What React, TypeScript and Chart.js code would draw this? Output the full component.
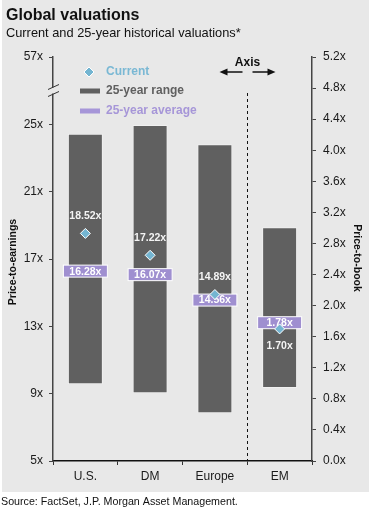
import React, { useEffect, useRef } from 'react';
import { Chart, registerables } from 'chart.js';

Chart.register(...registerables);

const FONT = "'Liberation Sans', Arial, sans-serif";

const categories = ['U.S.', 'DM', 'Europe', 'EM'];
const rangeLowPE = [9.56, 9.02, 7.83, null];
const rangeHighPE = [24.44, 24.96, 23.81, null];
const rangeLowPB = [null, null, null, 0.94];
const rangeHighPB = [null, null, null, 3.01];
const currentPE = [18.52, 17.22, 14.89, null];
const currentPB = [null, null, null, 1.7];
const averagePE = [16.28, 16.07, 14.56, null];
const averagePB = [null, null, null, 1.78];
const peTickValues = [5, 9, 13, 17, 21, 25, 29];
const peTickLabels = ['5x', '9x', '13x', '17x', '21x', '25x', '57x'];

const BG = '#e8e8e8';
const RANGE = '#606060';
const AVG = '#9f8fd0';
const CUR = '#74b5d1';

function drawAverages(chart: any) {
  const ctx = chart.ctx;
  const { x, yPE, yPB } = chart.scales;
  ctx.save();
  categories.forEach((_, i) => {
    let v: number | null = null;
    let y = 0;
    if (averagePE[i] != null) { v = averagePE[i] as number; y = yPE.getPixelForValue(v); }
    else if (averagePB[i] != null) { v = averagePB[i] as number; y = yPB.getPixelForValue(v); }
    if (v == null) return;
    const cx = x.getPixelForValue(i);
    const w = 44, h = 12;
    ctx.fillStyle = AVG;
    ctx.fillRect(cx - w / 2, y - h / 2, w, h);
    ctx.strokeStyle = '#ffffff';
    ctx.lineWidth = 1;
    ctx.strokeRect(cx - w / 2, y - h / 2, w, h);
    ctx.fillStyle = '#ffffff';
    ctx.font = `bold 10.5px ${FONT}`;
    ctx.textAlign = 'center';
    ctx.textBaseline = 'middle';
    ctx.fillText(v.toFixed(2) + 'x', cx, y + 0.5);
  });
  ctx.restore();
}

const decor = {
  id: 'decor',
  beforeDraw(chart: any) {
    const ctx = chart.ctx;
    ctx.save();
    ctx.fillStyle = '#ffffff';
    ctx.fillRect(0, 0, chart.width, chart.height);
    ctx.fillStyle = BG;
    ctx.fillRect(2, 0, 367, 492);
    ctx.restore();
  },
  beforeDatasetsDraw(chart: any) {
    chart.$avgDrawn = false;
  },
  beforeDatasetDraw(chart: any, args: any) {
    if (args.meta.type === 'line' && !chart.$avgDrawn) {
      drawAverages(chart);
      chart.$avgDrawn = true;
    }
  },
  afterDraw(chart: any) {
    const ctx = chart.ctx;
    const { x, yPE, yPB } = chart.scales;
    const area = chart.chartArea;
    ctx.save();

    // Title & subtitle
    ctx.fillStyle = '#111';
    ctx.textAlign = 'left';
    ctx.textBaseline = 'alphabetic';
    ctx.font = `bold 16px ${FONT}`;
    ctx.fillText('Global valuations', 6, 20);
    ctx.font = `12.8px ${FONT}`;
    ctx.fillText('Current and 25-year historical valuations*', 6, 37);

    // Source
    ctx.font = `10.7px ${FONT}`;
    ctx.fillStyle = '#111';
    ctx.textBaseline = 'middle';
    ctx.fillText('Source: FactSet, J.P. Morgan Asset Management.', 1, 502);

    // Axis titles
    ctx.font = `bold 10.5px ${FONT}`;
    ctx.textAlign = 'center';
    ctx.textBaseline = 'middle';
    ctx.save();
    ctx.translate(13, 262);
    ctx.rotate(-Math.PI / 2);
    ctx.fillText('Price-to-earnings', 0, 0);
    ctx.restore();
    ctx.save();
    ctx.translate(357, 258);
    ctx.rotate(Math.PI / 2);
    ctx.fillText('Price-to-book', 0, 0);
    ctx.restore();

    // Axis break on left axis
    const ax = area.left;
    ctx.fillStyle = BG;
    ctx.fillRect(ax - 2, 87.5, 4, 6);
    ctx.strokeStyle = '#333';
    ctx.lineWidth = 1;
    ctx.beginPath();
    ctx.moveTo(ax - 5, 89.5); ctx.lineTo(ax + 6, 84.5);
    ctx.moveTo(ax - 5, 96.5); ctx.lineTo(ax + 6, 91.5);
    ctx.stroke();

    // Dashed divider
    const dx = Math.round((x.getPixelForValue(2) + x.getPixelForValue(3)) / 2) + 0.5;
    ctx.strokeStyle = '#111';
    ctx.setLineDash([3, 3]);
    ctx.beginPath();
    ctx.moveTo(dx, 93);
    ctx.lineTo(dx, area.bottom);
    ctx.stroke();
    ctx.setLineDash([]);

    // "Axis" label with arrows
    ctx.fillStyle = '#111';
    ctx.font = `bold 12px ${FONT}`;
    ctx.textAlign = 'center';
    ctx.fillText('Axis', dx, 63);
    ctx.lineWidth = 1.5;
    ctx.beginPath();
    ctx.moveTo(dx - 5, 72); ctx.lineTo(dx - 22, 72);
    ctx.moveTo(dx + 5, 72); ctx.lineTo(dx + 22, 72);
    ctx.stroke();
    ctx.beginPath();
    ctx.moveTo(dx - 28, 72); ctx.lineTo(dx - 20, 68.5); ctx.lineTo(dx - 20, 75.5); ctx.closePath();
    ctx.moveTo(dx + 28, 72); ctx.lineTo(dx + 20, 68.5); ctx.lineTo(dx + 20, 75.5); ctx.closePath();
    ctx.fill();

    // Legend
    ctx.font = `bold 12px ${FONT}`;
    ctx.textAlign = 'left';
    ctx.textBaseline = 'middle';
    // diamond
    ctx.fillStyle = CUR;
    ctx.strokeStyle = '#fff';
    ctx.lineWidth = 1;
    ctx.beginPath();
    ctx.moveTo(89, 67); ctx.lineTo(94, 72); ctx.lineTo(89, 77); ctx.lineTo(84, 72); ctx.closePath();
    ctx.fill(); ctx.stroke();
    ctx.fillStyle = '#7ab8d4';
    ctx.fillText('Current', 106, 72);
    ctx.fillStyle = RANGE;
    ctx.fillRect(80, 88.5, 20, 5);
    ctx.fillText('25-year range', 106, 91);
    ctx.fillStyle = '#a696d8';
    ctx.fillRect(80, 108.5, 20, 5);
    ctx.fillText('25-year average', 106, 111);

    // Current value labels
    ctx.font = `bold 10.5px ${FONT}`;
    ctx.textAlign = 'center';
    ctx.fillStyle = '#f4f4f4';
    categories.forEach((_, i) => {
      const cx = x.getPixelForValue(i);
      if (currentPE[i] != null) {
        const v = currentPE[i] as number;
        ctx.fillText(v.toFixed(2) + 'x', cx, yPE.getPixelForValue(v) - 17);
      } else if (currentPB[i] != null) {
        const v = currentPB[i] as number;
        ctx.fillText(v.toFixed(2) + 'x', cx, yPB.getPixelForValue(v) + 17);
      }
    });

    ctx.restore();
  },
};

export default function App() {
  const ref = useRef<HTMLCanvasElement | null>(null);
  useEffect(() => {
    if (!ref.current) return;
    const pePoint = (arr: (number | null)[]) => arr;
    const chart = new Chart(ref.current, {
      type: 'bar',
      data: {
        labels: categories,
        datasets: [
          {
            type: 'bar',
            label: '25-year range',
            data: rangeLowPE.map((lo, i) => (lo == null ? null : [lo, rangeHighPE[i] as number])) as any,
            yAxisID: 'yPE',
            backgroundColor: RANGE,
            borderColor: '#f0f0f0',
            borderWidth: 1,
            borderSkipped: false,
            barPercentage: 0.54,
            categoryPercentage: 1,
            grouped: false,
            order: 2,
          },
          {
            type: 'bar',
            label: '25-year range PB',
            data: rangeLowPB.map((lo, i) => (lo == null ? null : [lo, rangeHighPB[i] as number])) as any,
            yAxisID: 'yPB',
            backgroundColor: RANGE,
            borderColor: '#f0f0f0',
            borderWidth: 1,
            borderSkipped: false,
            barPercentage: 0.54,
            categoryPercentage: 1,
            grouped: false,
            order: 2,
          },
          {
            type: 'line',
            label: 'Current',
            data: pePoint(currentPE) as any,
            yAxisID: 'yPE',
            showLine: false,
            pointStyle: 'rectRot',
            pointRadius: 5,
            pointBackgroundColor: CUR,
            pointBorderColor: '#ffffff',
            pointBorderWidth: 1,
            order: 0,
          },
          {
            type: 'line',
            label: 'Current PB',
            data: pePoint(currentPB) as any,
            yAxisID: 'yPB',
            showLine: false,
            pointStyle: 'rectRot',
            pointRadius: 5,
            pointBackgroundColor: CUR,
            pointBorderColor: '#ffffff',
            pointBorderWidth: 1,
            order: 0,
          },
        ],
      },
      options: {
        responsive: false,
        animation: false,
        devicePixelRatio: 1,
        layout: { padding: { top: 57, left: 0, right: 0, bottom: 0 } },
        plugins: { legend: { display: false }, tooltip: { enabled: false }, title: { display: false } },
        scales: {
          x: {
            type: 'category',
            offset: true,
            grid: { display: true, drawOnChartArea: false, drawTicks: true, tickLength: 4, color: '#333', offset: true },
            border: { display: true, color: '#111', width: 1.5 },
            ticks: { color: '#1a1a1a', font: { family: FONT, size: 12 }, padding: 4 },
            afterFit: (s: any) => { s.height = 55; },
          },
          yPE: {
            type: 'linear',
            position: 'left',
            min: 5,
            max: 29,
            afterBuildTicks: (s: any) => { s.ticks = peTickValues.map((v) => ({ value: v })); },
            ticks: {
              color: '#1a1a1a',
              font: { family: FONT, size: 12 },
              padding: 6,
              callback: (v: any) => {
                const idx = peTickValues.indexOf(Number(v));
                return idx >= 0 ? peTickLabels[idx] : '';
              },
            },
            grid: { drawOnChartArea: false, drawTicks: true, tickLength: 4, color: '#444' },
            border: { display: true, color: '#444', width: 1.5 },
            afterFit: (s: any) => { s.width = 53; },
          },
          yPB: {
            type: 'linear',
            position: 'right',
            min: 0,
            max: 5.2,
            ticks: {
              stepSize: 0.4,
              color: '#1a1a1a',
              font: { family: FONT, size: 12 },
              padding: 7,
              callback: (v: any) => Number(v).toFixed(1) + 'x',
            },
            grid: { drawOnChartArea: false, drawTicks: true, tickLength: 4, color: '#444' },
            border: { display: true, color: '#444', width: 1.5 },
            afterFit: (s: any) => { s.width = 72; },
          },
        },
      },
      plugins: [decor],
    } as any);
    return () => chart.destroy();
  }, []);

  return (
    <div style={{ position: 'absolute', left: 0, top: 0, width: 384, height: 516 }}>
      <canvas ref={ref} width={384} height={516} style={{ width: 384, height: 516, display: 'block' }} />
    </div>
  );
}
